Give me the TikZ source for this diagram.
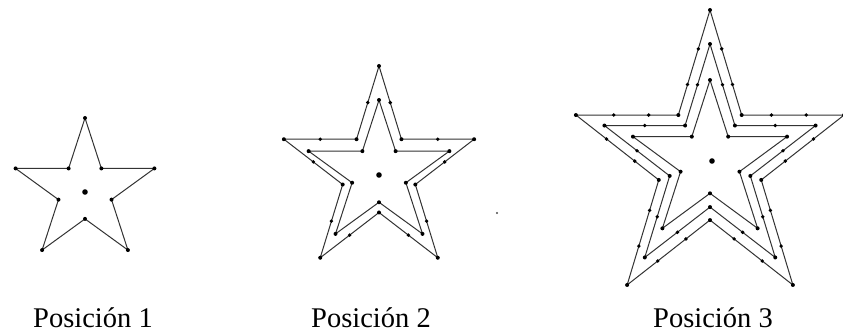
\documentclass[tikz,border=0pt]{standalone}
\usepackage{fontspec}
\setmainfont{Liberation Serif}
\usetikzlibrary{calc}
\tikzset{
  starline/.style={draw=black!80, line width=1pt, line join=round},
  lbl/.style={anchor=base, inner sep=0pt, font=\fontsize{28.5}{30}\selectfont}
}
\newcommand\mkstar[5]{%
  \foreach \k in {0,...,9}{%
    \pgfmathsetmacro\fac{ifthenelse(mod(\k,2)==0,1,0.382)}%
    \coordinate (#1-\k) at ({#2+#4*\fac*sin(36*\k)},{#3-#5*\fac*cos(36*\k)});
  }%
  \draw[starline] (#1-0)--(#1-1)--(#1-2)--(#1-3)--(#1-4)--(#1-5)--(#1-6)--(#1-7)--(#1-8)--(#1-9)--cycle;
  \foreach \k in {0,...,9}{\fill[black] (#1-\k) circle (2pt);}%
}
\newcommand\edgedots[2]{%
  \foreach \j in {0,2,4,6,8}{%
    \pgfmathtruncatemacro\ja{mod(\j+9,10)}%
    \pgfmathtruncatemacro\jb{\j+1}%
    \foreach \fr in {#2}{%
      \fill[black] ($(#1-\j)!\fr!(#1-\ja)$) circle (1.9pt);
      \fill[black] ($(#1-\j)!\fr!(#1-\jb)$) circle (1.9pt);
    }}%
}
\begin{document}
\begin{tikzpicture}[x=1pt,y=-1pt]
\fill[white] (0,0) rectangle (843,334);
\useasboundingbox (0,0) rectangle (843,334);
\clip (0,0) rectangle (843,334);
% Posicion 1
\mkstar{sa}{85}{191}{73}{73}
\fill[black] (85,192) circle (2.8pt);
% Posicion 2
\mkstar{sb}{379}{172}{100}{106}
\edgedots{sb}{0.5}
\mkstar{sbi}{379}{174}{74}{74}
\fill[black] (379,175) circle (2.8pt);
\fill[black!70] (497,213) circle (1.1pt);
% Posicion 3
\mkstar{sc}{710}{162}{141}{152}
\edgedots{sc}{0.37,0.71}
\mkstar{scm}{710}{162}{111}{118}
\edgedots{scm}{0.5}
\mkstar{sci}{710}{162}{81}{82}
\fill[black] (712,161) circle (2.8pt);
% labels
\node[lbl] (l1) at (93,327) {Posición 1};
\node[lbl] (l2) at (371,327) {Posición 2};
\node[lbl] (l3) at (713,327) {Posición 3};
\end{tikzpicture}
\end{document}
